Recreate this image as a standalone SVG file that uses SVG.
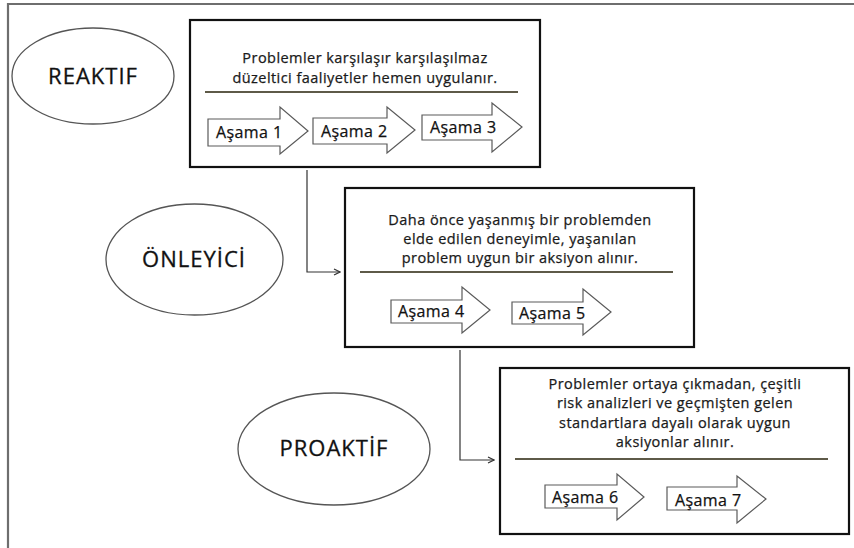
<svg xmlns="http://www.w3.org/2000/svg" width="854" height="548" viewBox="0 0 854 548">
  <defs>
    <style>
      .frame { fill: none; stroke: #6e6e6e; stroke-width: 2.2; }
      .oval { fill: #ffffff; stroke: #555555; stroke-width: 1.3; }
      .oval-label { font-family: "Open Sans", "Liberation Sans", Arial, sans-serif; font-size: 22px; letter-spacing: 1px; fill: #111111; stroke: #111111; stroke-width: 0.3; text-anchor: middle; }
      .panel { fill: #ffffff; stroke: #111111; stroke-width: 2.2; }
      .desc { font-family: "Open Sans", "Liberation Sans", Arial, sans-serif; font-size: 14.5px; letter-spacing: 0.45px; fill: #1a1a1a; stroke: #1a1a1a; stroke-width: 0.25; text-anchor: middle; }
      .rule { stroke: #5e5a48; stroke-width: 2; }
      .step { fill: #ffffff; stroke: #5a5a5a; stroke-width: 1.2; stroke-linejoin: miter; }
      .step-label { font-family: "Open Sans", "Liberation Sans", Arial, sans-serif; font-size: 16px; letter-spacing: 0.4px; fill: #111111; stroke: #111111; stroke-width: 0.25; }
      .link { fill: none; stroke: #333333; stroke-width: 1.2; }
    </style>
    <marker id="tip" markerWidth="8" markerHeight="8" refX="7" refY="4" orient="auto" markerUnits="userSpaceOnUse">
      <path d="M1,1 L7,4 L1,7" fill="none" stroke="#333333" stroke-width="1.2"/>
    </marker>
  </defs>

  <rect width="854" height="548" fill="#ffffff"/>

  <!-- page frame (top and left edges) -->
  <path class="frame" d="M8,548 L8,4 L854,4"/>

  <!-- connectors between stage panels -->
  <g id="connectors">
    <path class="link" d="M307,170 L307,272 L340,272" marker-end="url(#tip)"/>
    <path class="link" d="M460,350 L460,460 L494,460" marker-end="url(#tip)"/>
  </g>

  <!-- reactive approach -->
  <g id="reaktif">
    <ellipse class="oval" cx="93" cy="76" rx="81" ry="48"/>
    <text class="oval-label" x="93" y="84">REAKTIF</text>
  </g>

  <g id="reaktif-panel">
    <rect class="panel" x="190" y="20" width="350" height="147"/>
    <text class="desc" x="365" y="63">Problemler karşılaşır karşılaşılmaz</text>
    <text class="desc" x="365" y="83">düzeltici faaliyetler hemen uygulanır.</text>
    <line class="rule" x1="205" y1="92" x2="518" y2="92"/>
    <g id="asama1">
      <polygon class="step" points="208,119 280,119 280,107 308,131 280,154 280,146 208,146"/>
      <text class="step-label" x="216" y="138">Aşama 1</text>
    </g>
    <g id="asama2">
      <polygon class="step" points="313,118 387,118 387,107 415,130 387,153 387,144 313,144"/>
      <text class="step-label" x="321" y="137">Aşama 2</text>
    </g>
    <g id="asama3">
      <polygon class="step" points="422,115 492,115 492,103 522,127 492,152 492,140 422,140"/>
      <text class="step-label" x="430" y="133">Aşama 3</text>
    </g>
  </g>

  <!-- preventive approach -->
  <g id="onleyici">
    <ellipse class="oval" cx="194.5" cy="259.5" rx="88.5" ry="55.5"/>
    <text class="oval-label" x="194" y="267">ÖNLEYİCİ</text>
  </g>

  <g id="onleyici-panel">
    <rect class="panel" x="345" y="188" width="349" height="159"/>
    <text class="desc" x="520" y="225">Daha önce yaşanmış bir problemden</text>
    <text class="desc" x="520" y="244">elde edilen deneyimle, yaşanılan</text>
    <text class="desc" x="520" y="263">problem uygun bir aksiyon alınır.</text>
    <line class="rule" x1="360" y1="272" x2="673" y2="272"/>
    <g id="asama4">
      <polygon class="step" points="391,300 462,300 462,287 490,310 462,333 462,323 391,323"/>
      <text class="step-label" x="398" y="317">Aşama 4</text>
    </g>
    <g id="asama5">
      <polygon class="step" points="512,302 583,302 583,289 611,312 583,335 583,324 512,324"/>
      <text class="step-label" x="519" y="319">Aşama 5</text>
    </g>
  </g>

  <!-- proactive approach -->
  <g id="proaktif">
    <ellipse class="oval" cx="334" cy="449" rx="96" ry="56"/>
    <text class="oval-label" x="334" y="456">PROAKTİF</text>
  </g>

  <g id="proaktif-panel">
    <rect class="panel" x="500" y="368" width="349" height="166"/>
    <text class="desc" x="675" y="389">Problemler ortaya çıkmadan, çeşitli</text>
    <text class="desc" x="675" y="408">risk analizleri ve geçmişten gelen</text>
    <text class="desc" x="675" y="428">standartlara dayalı olarak uygun</text>
    <text class="desc" x="675" y="447">aksiyonlar alınır.</text>
    <line class="rule" x1="515" y1="459" x2="828" y2="459"/>
    <g id="asama6">
      <polygon class="step" points="545,485 617,485 617,474 644,497 617,520 617,508 545,508"/>
      <text class="step-label" x="552" y="503">Aşama 6</text>
    </g>
    <g id="asama7">
      <polygon class="step" points="667,487 737,487 737,476 766,499 737,523 737,510 667,510"/>
      <text class="step-label" x="675" y="506">Aşama 7</text>
    </g>
  </g>
</svg>
